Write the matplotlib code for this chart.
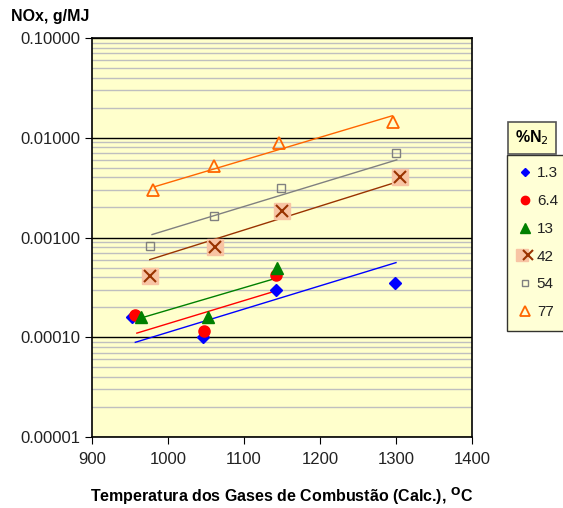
import matplotlib
matplotlib.use("Agg")
import matplotlib.pyplot as plt
import numpy as np
from matplotlib.ticker import LogLocator, NullFormatter, FuncFormatter
from matplotlib.legend_handler import HandlerTuple

plt.rcParams['font.family'] = ['Liberation Sans', 'DejaVu Sans']

# Data
labels = ['1.3', '6.4', '13', '42', '54', '77']

x_13 = [953, 1046, 1142, 1299]
y_13 = [1.58e-4, 1.0e-4, 2.95e-4, 3.47e-4]
x_64 = [957, 1047, 1142]
y_64 = [1.66e-4, 1.15e-4, 4.2e-4]
x_130 = [964, 1053, 1143]
y_130 = [1.58e-4, 1.58e-4, 5.0e-4]
x_42 = [976, 1062, 1150, 1305]
y_42 = [4.07e-4, 8.1e-4, 1.86e-3, 4.07e-3]
x_54 = [976, 1061, 1149, 1300]
y_54 = [8.3e-4, 1.66e-3, 3.1e-3, 7.1e-3]
x_77 = [980, 1061, 1146, 1296]
y_77 = [3.0e-3, 5.2e-3, 8.9e-3, 1.45e-2]

# Trend line endpoints (x range and y values)
trend_13_x = [957, 1300]
trend_13_y = [8.9e-5, 5.6e-4]
trend_64_x = [959, 1141]
trend_64_y = [1.1e-4, 2.9e-4]
trend_130_x = [967, 1137]
trend_130_y = [1.58e-4, 3.8e-4]
trend_42_x = [976, 1296]
trend_42_y = [6.0e-4, 3.5e-3]
trend_54_x = [979, 1301]
trend_54_y = [1.07e-3, 6.0e-3]
trend_77_x = [983, 1295]
trend_77_y = [3.24e-3, 1.66e-2]

x_ticks = [900, 1000, 1100, 1200, 1300, 1400]
y_ticks = [1e-5, 1e-4, 1e-3, 1e-2, 1e-1]

fig = plt.figure(figsize=(5.63, 5.08), dpi=100)
ax = fig.add_axes([92/563, 1-437/508, (472-92)/563, (437-38)/508])
ax.set_facecolor('#FFFFCC')
ax.set_yscale('log')
ax.set_xlim(900, 1400)
ax.set_ylim(1e-5, 1e-1)

# gridlines
ax.yaxis.set_minor_locator(LogLocator(base=10, subs=np.arange(2, 10)))
ax.yaxis.set_minor_formatter(NullFormatter())
ax.grid(True, which='minor', axis='y', color='#BFBFBF', linewidth=1.0, zorder=0)
ax.grid(True, which='major', axis='y', color='black', linewidth=1.0, zorder=0)
ax.set_axisbelow(True)
ax.tick_params(axis='y', which='minor', length=0)
ax.set_xticks(x_ticks)
ax.set_yticks(y_ticks)
ax.yaxis.set_major_formatter(FuncFormatter(lambda v, p: f"{v:.5f}"))
ax.tick_params(axis='both', which='major', labelsize=12, length=5, direction='out',
               color='black', labelcolor='#222222')
ax.tick_params(axis='x', which='major', pad=6)
for s in ax.spines.values():
    s.set_color('black')
    s.set_linewidth(1.2)

lw = 1.0
# trend lines
ax.plot(trend_13_x, trend_13_y, color='#0000FF', lw=lw, zorder=2)
ax.plot(trend_64_x, trend_64_y, color='#FF0000', lw=lw, zorder=2)
ax.plot(trend_130_x, trend_130_y, color='#008000', lw=lw, zorder=2)
ax.plot(trend_42_x, trend_42_y, color='#993300', lw=lw, zorder=2)
ax.plot(trend_54_x, trend_54_y, color='#808080', lw=lw, zorder=2)
ax.plot(trend_77_x, trend_77_y, color='#FF6600', lw=lw, zorder=2)

# markers
h13, = ax.plot(x_13, y_13, 'D', ls='none', color='#0000FF', ms=6, zorder=3)
h64, = ax.plot(x_64, y_64, 'o', ls='none', color='#FF0000', ms=8, zorder=4)
h130, = ax.plot(x_130, y_130, '^', ls='none', color='#008000', ms=9, zorder=5)
h42a, = ax.plot(x_42, y_42, 's', ls='none', color='#F8C4A4', ms=12, zorder=3)
h42b, = ax.plot(x_42, y_42, 'x', ls='none', color='#993300', ms=9, mew=1.5, zorder=4)
h54, = ax.plot(x_54, y_54, 's', ls='none', mfc='none', mec='#808080', ms=6, mew=1.0, zorder=3)
h77, = ax.plot(x_77, y_77, '^', ls='none', mfc='none', mec='#FF6600', ms=9, mew=1.3, zorder=3)

# labels
fig.text(11/563, 1-17/508, 'NOx, g/MJ', fontsize=11.5, fontweight='bold', va='center', ha='left')
ax.set_xlabel('Temperatura dos Gases de Combustão (Calc.), $^{\\mathbf{O}}$C',
              fontsize=11.5, fontweight='bold', labelpad=13)

# legend title box
fig.text(515/563, 1-138/508, '%N$_2$', fontsize=11.5, fontweight='bold', va='center', ha='left',
         bbox=dict(boxstyle='square,pad=0.42', facecolor='#FFFFCC', edgecolor='#555555', lw=1.2))

leg = ax.legend([h13, h64, h130, (h42a, h42b), h54, h77], labels,
                loc='upper left', bbox_to_anchor=(507/563, 1-155/508),
                bbox_transform=fig.transFigure, frameon=True, fancybox=False,
                facecolor='#FFFFCC', edgecolor='black', fontsize=11,
                handlelength=0.8, handletextpad=0.4, labelspacing=0.9,
                borderpad=0.75, borderaxespad=0, markerscale=0.75,
                handler_map={tuple: HandlerTuple(ndivide=None, pad=0)})
leg.get_frame().set_linewidth(1.0)
for t in leg.get_texts():
    t.set_color('#222222')
leg.set_zorder(10)

fig.savefig('out.png', dpi=100)
